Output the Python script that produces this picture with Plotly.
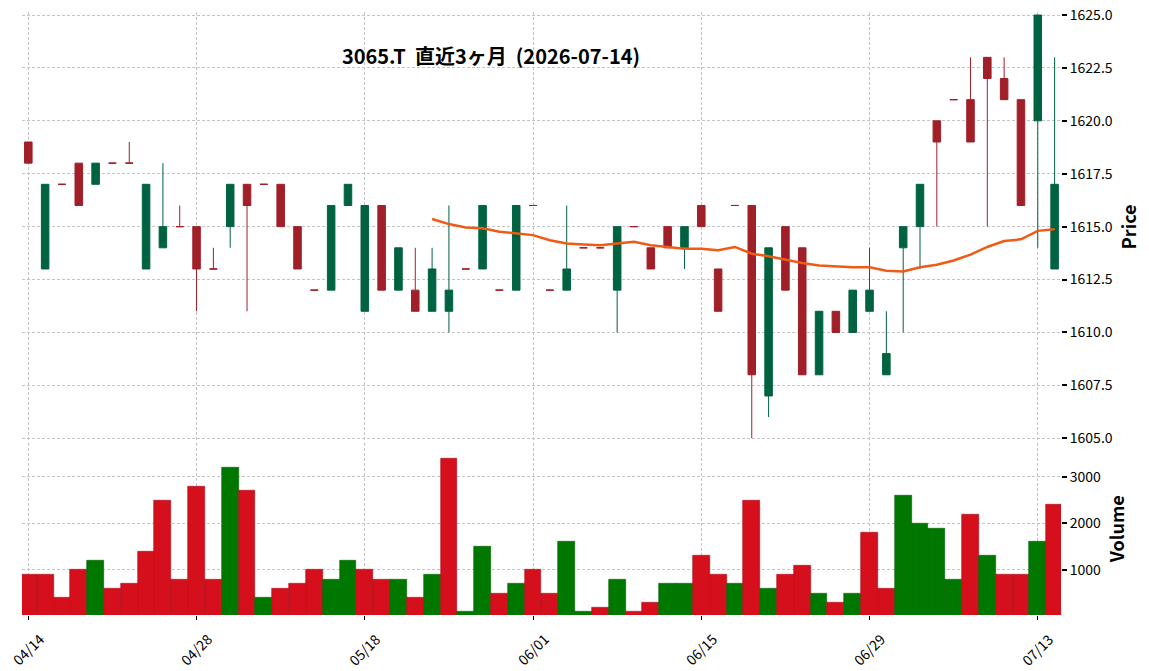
import plotly.graph_objects as go
import pandas as pd

# ---- data ----
dates = [
    "2026-04-14", "2026-04-15", "2026-04-16", "2026-04-17", "2026-04-20", "2026-04-21",
    "2026-04-22", "2026-04-23", "2026-04-24", "2026-04-27", "2026-04-28", "2026-04-30",
    "2026-05-01", "2026-05-07", "2026-05-08", "2026-05-11", "2026-05-12", "2026-05-13",
    "2026-05-14", "2026-05-15", "2026-05-18", "2026-05-19", "2026-05-20", "2026-05-21",
    "2026-05-22", "2026-05-25", "2026-05-26", "2026-05-27", "2026-05-28", "2026-05-29",
    "2026-06-01", "2026-06-02", "2026-06-03", "2026-06-04", "2026-06-05", "2026-06-08",
    "2026-06-09", "2026-06-10", "2026-06-11", "2026-06-12", "2026-06-15", "2026-06-16",
    "2026-06-17", "2026-06-18", "2026-06-19", "2026-06-22", "2026-06-23", "2026-06-24",
    "2026-06-25", "2026-06-26", "2026-06-29", "2026-06-30", "2026-07-01", "2026-07-02",
    "2026-07-03", "2026-07-06", "2026-07-07", "2026-07-08", "2026-07-09", "2026-07-10",
    "2026-07-13", "2026-07-14",
]
opens = [1619, 1613, 1617, 1618, 1617, 1618, 1618, 1613, 1614, 1615, 1615, 1613,
         1615, 1617, 1617, 1617, 1615, 1612, 1612, 1616, 1611, 1616, 1612, 1612,
         1611, 1611, 1613, 1613, 1612, 1612, 1616, 1612, 1612, 1614, 1614, 1612,
         1615, 1614, 1615, 1614, 1616, 1613, 1616, 1616, 1607, 1615, 1614, 1608,
         1611, 1610, 1611, 1608, 1614, 1615, 1620, 1621, 1621, 1623, 1622, 1621,
         1620, 1613]
highs = [1619, 1617, 1617, 1618, 1618, 1618, 1619, 1617, 1618, 1616, 1615, 1614,
         1617, 1617, 1617, 1617, 1615, 1612, 1616, 1617, 1616, 1616, 1614, 1614,
         1614, 1616, 1613, 1616, 1612, 1616, 1616, 1612, 1616, 1614, 1614, 1615,
         1615, 1614, 1615, 1615, 1616, 1613, 1616, 1616, 1614, 1615, 1614, 1611,
         1611, 1612, 1614, 1611, 1615, 1617, 1620, 1621, 1623, 1623, 1623, 1621,
         1625, 1623]
lows = [1618, 1613, 1617, 1616, 1617, 1618, 1618, 1613, 1614, 1615, 1611, 1613,
        1614, 1611, 1617, 1615, 1613, 1612, 1612, 1616, 1611, 1612, 1612, 1611,
        1611, 1610, 1613, 1613, 1612, 1612, 1616, 1612, 1612, 1614, 1614, 1610,
        1615, 1613, 1614, 1613, 1615, 1611, 1616, 1605, 1606, 1612, 1608, 1608,
        1610, 1610, 1611, 1608, 1610, 1613, 1615, 1621, 1619, 1615, 1621, 1616,
        1614, 1613]
closes = [1618, 1617, 1617, 1616, 1618, 1618, 1618, 1617, 1615, 1615, 1613, 1613,
          1617, 1616, 1617, 1615, 1613, 1612, 1616, 1617, 1616, 1612, 1614, 1611,
          1613, 1612, 1613, 1616, 1612, 1616, 1616, 1612, 1613, 1614, 1614, 1615,
          1615, 1613, 1614, 1615, 1615, 1611, 1616, 1608, 1614, 1612, 1608, 1611,
          1610, 1612, 1612, 1609, 1615, 1617, 1619, 1621, 1619, 1622, 1621, 1616,
          1625, 1617]
volumes = [900, 900, 400, 1000, 1200, 600, 700, 1400, 2500, 800, 2800, 800,
           3200, 2700, 400, 600, 700, 1000, 800, 1200, 1000, 800, 800, 400,
           900, 3400, 100, 1500, 500, 700, 1000, 500, 1600, 100, 200, 800,
           100, 300, 700, 700, 1300, 900, 700, 2500, 600, 900, 1100, 500,
           300, 500, 1800, 600, 2600, 2000, 1900, 800, 2200, 1300, 900, 900,
           1600, 2400]
price_ticks = [1605.0, 1607.5, 1610.0, 1612.5, 1615.0, 1617.5, 1620.0, 1622.5, 1625.0]
volume_ticks = [1000, 2000, 3000]
title_text = "3065.T  直近3ヶ月  (2026-07-14)"
ma_window = 25

# ---- styles ----
UP = "#006340"
DOWN = "#A01F28"
VUP = "#007800"
VDOWN = "#D50F1B"
VUP_EDGE = "#006000"
VDOWN_EDGE = "#A80C15"
MA_COLOR = "#F05A14"
GRID = "#C4C4C4"
FONT = "Noto Sans CJK JP"

n = len(dates)
xs = list(range(n))
labels = [d[5:].replace("-", "/") for d in dates]
tick_idx = list(range(0, n, 10))
tick_txt = [labels[i] for i in tick_idx]

ma = pd.Series(closes, dtype=float).rolling(ma_window).mean()

up_i = [i for i in xs if opens[i] < closes[i]]
dn_i = [i for i in xs if not (opens[i] < closes[i])]

vcol, vedge = [], []
for i in xs:
    up = (opens[0] < closes[0]) if i == 0 else (closes[i - 1] < closes[i])
    vcol.append(VUP if up else VDOWN)
    vedge.append(VUP_EDGE if up else VDOWN_EDGE)

fig = go.Figure()


def candle(idx, color):
    return go.Candlestick(
        x=idx,
        open=[opens[i] for i in idx],
        high=[highs[i] for i in idx],
        low=[lows[i] for i in idx],
        close=[closes[i] for i in idx],
        increasing=dict(line=dict(color=color, width=1), fillcolor=color),
        decreasing=dict(line=dict(color=color, width=1), fillcolor=color),
        whiskerwidth=0,
        showlegend=False,
        xaxis="x", yaxis="y",
    )


fig.add_trace(candle(dn_i, DOWN))
fig.add_trace(candle(up_i, UP))
fig.add_trace(go.Scatter(x=xs, y=ma, mode="lines",
                         line=dict(color=MA_COLOR, width=2.5),
                         showlegend=False, xaxis="x", yaxis="y"))
fig.add_trace(go.Bar(x=xs, y=volumes, width=1.0,
                     marker=dict(color=vcol, line=dict(color=vedge, width=0.6)),
                     showlegend=False, xaxis="x2", yaxis="y2"))

# date labels: centred under each tick, rotated 45 degrees
for i, t in zip(tick_idx, tick_txt):
    fig.add_annotation(x=i, xref="x2", y=-0.019, yref="paper", text=t,
                       textangle=-45, xanchor="center", yanchor="top",
                       showarrow=False, font=dict(family=FONT, size=14, color="black"))

xr = [-0.375, 61.38]
grid_common = dict(showgrid=True, gridcolor=GRID, griddash="3px,2px", gridwidth=0.8,
                   zeroline=False, showline=False)

fig.update_layout(
    width=1149, height=671,
    margin=dict(l=22, r=88, t=12, b=56),
    paper_bgcolor="white", plot_bgcolor="white",
    font=dict(family=FONT, color="black", size=12),
    boxgap=0.36,
    bargap=0,
    showlegend=False,
    title=dict(text="<b>" + title_text + "</b>", x=491 / 1149, xanchor="center",
               y=1 - 57 / 671, yanchor="middle",
               font=dict(family=FONT, size=20, color="black")),
    xaxis=dict(domain=[0, 1], anchor="y", range=xr, tickvals=tick_idx,
               showticklabels=False, ticks="", rangeslider=dict(visible=False),
               **grid_common),
    xaxis2=dict(domain=[0, 1], anchor="y2", range=xr, tickvals=tick_idx,
                showticklabels=False, ticks="outside", ticklen=4,
                tickcolor="black", tickwidth=1,
                automargin=False, **grid_common),
    yaxis=dict(domain=[0.2876, 1], anchor="x", side="right",
               range=[1604.844, 1625.142], tickvals=price_ticks, tickformat=".1f",
               ticks="outside", ticklen=5, tickwidth=1.5, tickcolor="black",
               tickfont=dict(size=14),
               title=dict(text="<b>Price</b>", font=dict(size=18), standoff=11),
               automargin=False, **grid_common),
    yaxis2=dict(domain=[0, 0.2859], anchor="x2", side="right",
                range=[30, 3740], tickvals=volume_ticks,
                ticks="outside", ticklen=5, tickwidth=1.5, tickcolor="black",
                tickfont=dict(size=14),
                title=dict(text="<b>Volume</b>", font=dict(size=18), standoff=11),
                automargin=False, **grid_common),
)

fig.write_html("out.html")
